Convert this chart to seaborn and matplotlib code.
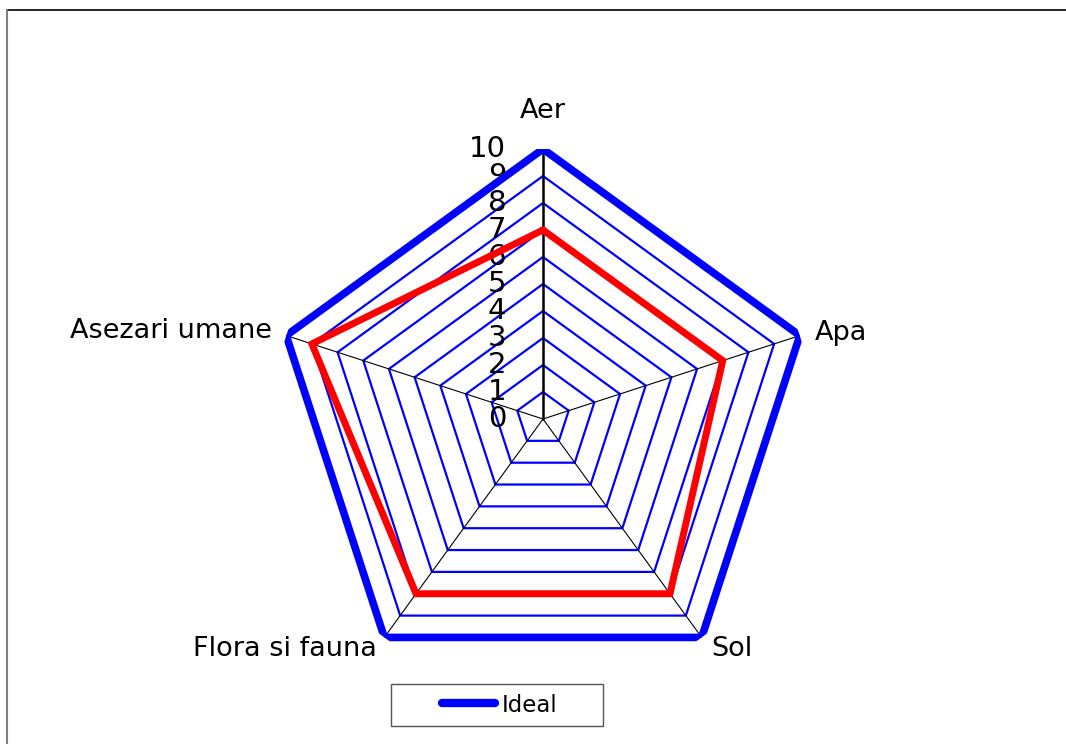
import numpy as np
import pandas as pd
import matplotlib
matplotlib.use("Agg")
import matplotlib.pyplot as plt
from matplotlib.lines import Line2D
from matplotlib.patches import Rectangle
import seaborn as sns

# Assessment categories and scores (0-10 scale)
categories = ["Aer", "Apa", "Sol", "Flora si fauna", "Asezari umane"]
ideal = [10, 10, 10, 10, 10]
actual = [7, 7, 8, 8, 9]
rings = [1, 2, 3, 4, 5, 6, 7, 8, 9]
tick_values = [0, 1, 2, 3, 4, 5, 6, 7, 8, 9, 10]

sns.set_theme(style="white")
plt.rcParams["font.family"] = ["DejaVu Sans"]

W, H = 1066, 744
fig = plt.figure(figsize=(W / 100, H / 100), dpi=100)
fig.patch.set_facecolor("white")

cx, cy, R = 543, 419, 270
ax = fig.add_axes([(cx - R) / W, (H - cy - R) / H, 2 * R / W, 2 * R / H],
                  projection="polar")
ax.set_theta_offset(np.pi / 2)
ax.set_theta_direction(-1)
ax.set_ylim(0, 10)
ax.grid(False)
ax.spines["polar"].set_visible(False)
ax.set_facecolor("none")

n = len(categories)
angles = np.linspace(0, 2 * np.pi, n, endpoint=False)
closed = np.append(angles, 2 * np.pi)

# concentric pentagonal grid
for r in rings:
    ax.plot(closed, [r] * (n + 1), color="#0000ff", lw=1.6, zorder=2,
            solid_joinstyle="miter")

# spokes
for i, th in enumerate(angles):
    ax.plot([th, th], [0, 10], color="black",
            lw=1.8 if i == 0 else 0.8, zorder=3)

def series_frame(values):
    return pd.DataFrame({"theta": closed, "r": list(values) + [values[0]]})

sns.lineplot(data=series_frame(actual), x="theta", y="r", sort=False,
             estimator=None, color="#ff0000", lw=5, ax=ax, zorder=4)
sns.lineplot(data=series_frame(ideal), x="theta", y="r", sort=False,
             estimator=None, color="#0000ff", lw=5.5, ax=ax, zorder=5)
for line in ax.get_lines()[-2:]:
    line.set_solid_joinstyle("miter")
ax.set_xlabel("")
ax.set_ylabel("")
ax.set_xticks([])
ax.set_yticks([])

# value scale along the vertical axis
for v in tick_values:
    ax.annotate(str(v), xy=(0, v), xytext=(-26.5, 0), textcoords="offset points",
                ha="right", va="center", fontsize=21, color="black",
                annotation_clip=False)

# category labels
offsets = [(0, 27, "center"), (11, 1.5, "left"), (7, -8, "left"),
           (-5, -8, "right"), (-10, 3.5, "right")]
for th, name, (dx, dy, ha) in zip(angles, categories, offsets):
    ax.annotate(name, xy=(th, 10), xytext=(dx, dy), textcoords="offset points",
                ha=ha, va="center", fontsize=19.5, color="black",
                annotation_clip=False)

# legend
fig.add_artist(Rectangle((391 / W, 1 - 726 / H), 212 / W, 42 / H,
                         transform=fig.transFigure, fill=False,
                         edgecolor="#555555", lw=1.0))
handle = Line2D([], [], color="#0000ff", lw=6, solid_capstyle="round")
fig.legend([handle], ["Ideal"], loc="center", bbox_to_anchor=(500 / W, 1 - 705 / H),
           frameon=False, fontsize=16.5, handlelength=2.3, handletextpad=0.3,
           labelcolor="black")

# outer frame lines
fig.add_artist(Line2D([7 / W, 1], [1 - 10 / H, 1 - 10 / H], color="black",
                      lw=1.2, transform=fig.transFigure))
fig.add_artist(Line2D([7 / W, 7 / W], [1 - 10 / H, 0], color="#808080",
                      lw=1.5, transform=fig.transFigure))

fig.savefig("out.png", dpi=100, facecolor="white")
